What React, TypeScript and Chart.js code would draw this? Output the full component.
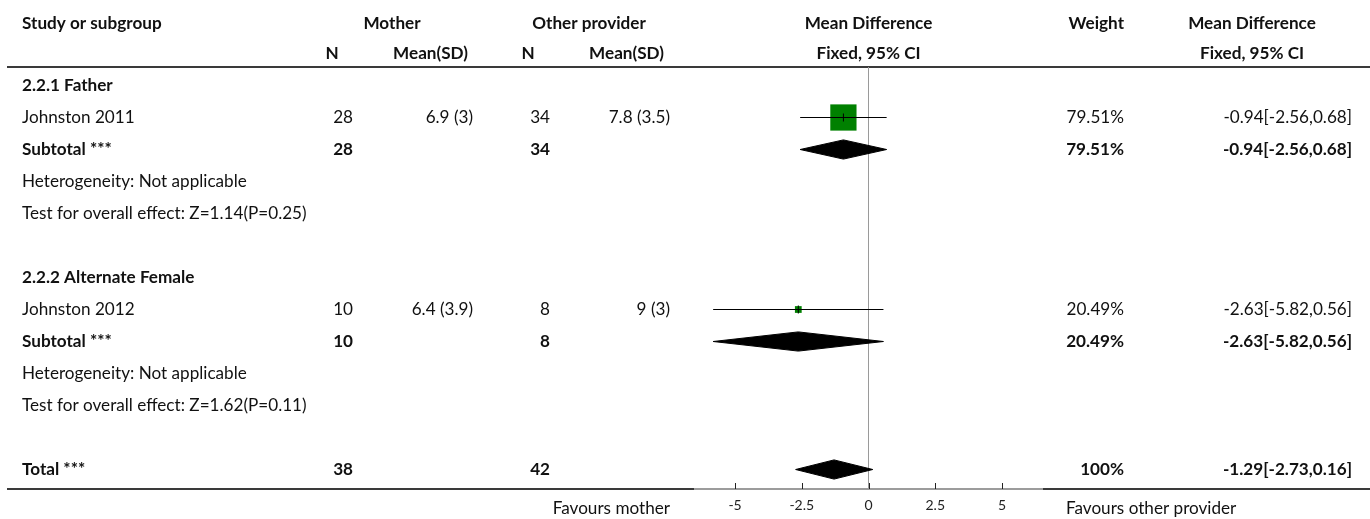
import React, { useEffect, useRef } from 'react';
import { Chart, registerables } from 'chart.js';

Chart.register(...registerables);

// ---- Table / plot data ----
const headerTop = ['Study or subgroup', 'Mother', 'Other provider', 'Mean Difference', 'Weight', 'Mean Difference'];
const headerSub = ['N', 'Mean(SD)', 'N', 'Mean(SD)', 'Fixed, 95% CI', 'Fixed, 95% CI'];

const groupTitles = ['2.2.1 Father', '2.2.2 Alternate Female'];
const groupRows = [0, 6];

const studyNames = ['Johnston 2011', 'Johnston 2012'];
const studyRows = [1, 7];
const studyMotherN = [28, 10];
const studyMotherMeanSD = ['6.9 (3)', '6.4 (3.9)'];
const studyOtherN = [34, 8];
const studyOtherMeanSD = ['7.8 (3.5)', '9 (3)'];
const studyMD = [-0.94, -2.63];
const studyLow = [-2.56, -5.82];
const studyHigh = [0.68, 0.56];
const studyWeight = [79.51, 20.49];

const pooledNames = ['Subtotal ***', 'Subtotal ***', 'Total ***'];
const pooledRows = [2, 8, 12];
const pooledMotherN = [28, 10, 38];
const pooledOtherN = [34, 8, 42];
const pooledMD = [-0.94, -2.63, -1.29];
const pooledLow = [-2.56, -5.82, -2.73];
const pooledHigh = [0.68, 0.56, 0.16];
const pooledWeight = [79.51, 20.49, 100];

const heterogeneityText = ['Heterogeneity: Not applicable', 'Heterogeneity: Not applicable'];
const heterogeneityRows = [3, 9];
const overallEffectText = ['Test for overall effect: Z=1.14(P=0.25)', 'Test for overall effect: Z=1.62(P=0.11)'];
const overallEffectRows = [4, 10];

const xTicks = [-5, -2.5, 0, 2.5, 5];
const favoursLeft = 'Favours mother';
const favoursRight = 'Favours other provider';

// ---- Styling ----
const FAMILY = 'Lato, "Noto Sans", sans-serif';
const SQUARE_PX_PER_WEIGHT = 0.33;
const DIAMOND_HALF = 0.3;
const TEXT = '#111';

const fmtCI = (m: number, lo: number, hi: number) =>
  `${m.toFixed(2)}[${lo.toFixed(2)},${hi.toFixed(2)}]`;
const fmtWeight = (w: number) => (Number.isInteger(w) ? `${w}%` : `${w.toFixed(2)}%`);

export default function App() {
  const ref = useRef<HTMLCanvasElement>(null);

  useEffect(() => {
    document.body.style.margin = '0';
    const canvas = ref.current!;

    const datasets: any[] = [];

    // study squares, side proportional to weight
    datasets.push({
      type: 'line',
      data: studyMD.map((m, i) => ({ x: m, y: studyRows[i] })),
      showLine: false,
      pointStyle: 'rect',
      pointRadius: studyWeight.map((w) => (w * SQUARE_PX_PER_WEIGHT) / Math.SQRT2),
      pointBackgroundColor: '#008000',
      pointBorderColor: '#008000',
      pointBorderWidth: 0,
      order: 5,
    });

    // confidence intervals
    studyMD.forEach((_, i) => {
      datasets.push({
        type: 'line',
        data: [
          { x: studyLow[i], y: studyRows[i] },
          { x: studyHigh[i], y: studyRows[i] },
        ],
        borderColor: '#000',
        borderWidth: 1,
        pointRadius: 0,
        fill: false,
        order: 4,
      });
    });

    // point estimate ticks
    datasets.push({
      type: 'line',
      data: studyMD.map((m, i) => ({ x: m, y: studyRows[i] })),
      showLine: false,
      pointStyle: 'line',
      pointRotation: 90,
      pointRadius: 4,
      pointBorderColor: '#000',
      pointBorderWidth: 1,
      order: 3,
    });

    // pooled diamonds: upper edge filled down to lower edge
    pooledMD.forEach((m, i) => {
      const r = pooledRows[i];
      datasets.push({
        type: 'line',
        data: [
          { x: pooledLow[i], y: r },
          { x: m, y: r - DIAMOND_HALF },
          { x: pooledHigh[i], y: r },
        ],
        borderColor: '#000',
        backgroundColor: '#000',
        borderWidth: 1,
        pointRadius: 0,
        fill: '+1',
        tension: 0,
        order: 2,
      });
      datasets.push({
        type: 'line',
        data: [
          { x: pooledLow[i], y: r },
          { x: m, y: r + DIAMOND_HALF },
          { x: pooledHigh[i], y: r },
        ],
        borderColor: '#000',
        backgroundColor: '#000',
        borderWidth: 1,
        pointRadius: 0,
        fill: false,
        tension: 0,
        order: 2,
      });
    });

    let fontSize = 15;
    const setFont = (ctx: CanvasRenderingContext2D, bold: boolean, size = fontSize) => {
      ctx.font = `${bold ? 'bold ' : ''}${size}px ${FAMILY}`;
    };

    const tablePlugin = {
      id: 'forestTable',
      beforeDraw(chart: any) {
        const { ctx } = chart;
        ctx.save();
        ctx.font = `100px ${FAMILY}`;
        fontSize = (100 * 285) / ctx.measureText(overallEffectText[1]).width;
        // rules above the body and along the axis
        ctx.strokeStyle = '#3a3a3a';
        ctx.lineWidth = 2;
        ctx.beginPath();
        ctx.moveTo(7, 67);
        ctx.lineTo(1370, 67);
        ctx.moveTo(7, chart.chartArea.bottom);
        ctx.lineTo(1370, chart.chartArea.bottom);
        ctx.stroke();
        ctx.restore();
      },
      afterDraw(chart: any) {
        const { ctx, scales } = chart;
        const xs = scales.x;
        const ys = scales.y;
        const rowY = (r: number) => ys.getPixelForValue(r);
        const center = (xs.left + xs.right) / 2;

        ctx.save();
        ctx.fillStyle = TEXT;
        ctx.textBaseline = 'middle';

        const text = (s: string, x: number, y: number, align: CanvasTextAlign, bold = false) => {
          setFont(ctx, bold);
          ctx.textAlign = align;
          ctx.fillText(s, x, y);
        };

        // headers
        const h1 = 23;
        const h2 = 53;
        text(headerTop[0], 22, h1, 'left', true);
        text(headerTop[1], 392, h1, 'center', true);
        text(headerTop[2], 589, h1, 'center', true);
        text(headerTop[3], center, h1, 'center', true);
        text(headerTop[4], 1124, h1, 'right', true);
        text(headerTop[5], 1252, h1, 'center', true);
        text(headerSub[0], 332, h2, 'center', true);
        text(headerSub[1], 468, h2, 'right', true);
        text(headerSub[2], 528, h2, 'center', true);
        text(headerSub[3], 664, h2, 'right', true);
        text(headerSub[4], center, h2, 'center', true);
        text(headerSub[5], 1252, h2, 'center', true);

        groupTitles.forEach((g, i) => text(g, 22, rowY(groupRows[i]), 'left', true));

        studyNames.forEach((n, i) => {
          const y = rowY(studyRows[i]);
          text(n, 22, y, 'left');
          text(String(studyMotherN[i]), 353, y, 'right');
          text(studyMotherMeanSD[i], 473, y, 'right');
          text(String(studyOtherN[i]), 550, y, 'right');
          text(studyOtherMeanSD[i], 670, y, 'right');
          text(fmtWeight(studyWeight[i]), 1124, y, 'right');
          text(fmtCI(studyMD[i], studyLow[i], studyHigh[i]), 1352, y, 'right');
        });

        pooledNames.forEach((n, i) => {
          const y = rowY(pooledRows[i]);
          text(n, 22, y, 'left', true);
          text(String(pooledMotherN[i]), 353, y, 'right', true);
          text(String(pooledOtherN[i]), 550, y, 'right', true);
          text(fmtWeight(pooledWeight[i]), 1124, y, 'right', true);
          text(fmtCI(pooledMD[i], pooledLow[i], pooledHigh[i]), 1352, y, 'right', true);
        });

        heterogeneityText.forEach((t, i) => text(t, 22, rowY(heterogeneityRows[i]), 'left'));
        overallEffectText.forEach((t, i) => text(t, 22, rowY(overallEffectRows[i]), 'left'));

        // favours labels
        const fy = 508;
        text(favoursLeft, 670, fy, 'right');
        text(favoursRight, 1066, fy, 'left');

        // upward tick marks on the axis
        ctx.strokeStyle = '#222';
        ctx.lineWidth = 1;
        ctx.beginPath();
        xTicks.forEach((v) => {
          const px = Math.round(xs.getPixelForValue(v)) + 0.5;
          ctx.moveTo(px, xs.top - 6);
          ctx.lineTo(px, xs.top);
        });
        ctx.stroke();
        ctx.restore();
      },
    };

    const chart = new Chart(canvas, {
      type: 'line',
      data: { datasets },
      options: {
        responsive: false,
        animation: false,
        devicePixelRatio: 1,
        events: [],
        layout: { padding: { left: 695, right: 328, top: 67, bottom: 0 } },
        plugins: {
          legend: { display: false },
          tooltip: { enabled: false },
        },
        scales: {
          x: {
            type: 'linear',
            position: 'bottom',
            min: -6.5,
            max: 6.5,
            afterBuildTicks: (s: any) => {
              s.ticks = xTicks.map((v) => ({ value: v }));
            },
            afterFit: (s: any) => {
              s.height = 30;
            },
            ticks: {
              autoSkip: false,
              maxRotation: 0,
              padding: 8,
              color: '#222',
              font: { family: FAMILY, size: 14 },
              callback: (v: any) => String(v),
            },
            grid: {
              drawTicks: false,
              lineWidth: 1,
              color: (c: any) => (c.tick && c.tick.value === 0 ? '#9a9a9a' : 'rgba(0,0,0,0)'),
            },
            border: { display: true, color: '#9c9c9c', width: 2 },
          },
          y: {
            type: 'linear',
            reverse: true,
            min: -0.578125,
            max: 12.609375,
            display: false,
          },
        },
      },
      plugins: [tablePlugin],
    } as any);

    return () => chart.destroy();
  }, []);

  return (
    <canvas
      ref={ref}
      width={1370}
      height={519}
      style={{ display: 'block', width: 1370, height: 519 }}
    />
  );
}
